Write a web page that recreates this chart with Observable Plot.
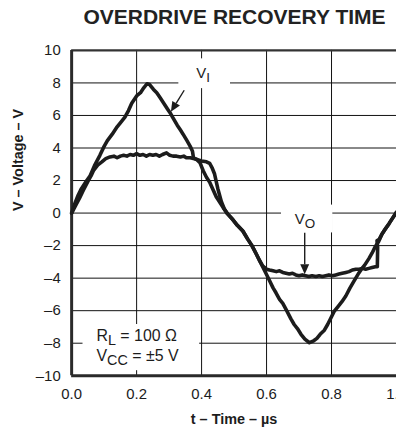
<!DOCTYPE html>
<html>
<head>
<meta charset="utf-8">
<script src="https://cdn.jsdelivr.net/npm/d3@7"></script>
<script src="https://cdn.jsdelivr.net/npm/@observablehq/plot@0.6"></script>
<style>
  html, body { margin: 0; padding: 0; background: #fff; overflow: hidden; }
  #wrap { position: relative; width: 396px; height: 433px; overflow: hidden; }
  #title { position: absolute; left: 71px; width: 327px; top: 6px; text-align: center;
           font: bold 21px "Liberation Sans", Arial, sans-serif; line-height: 1; color: #222; white-space: nowrap; }
  #chart { position: absolute; left: 0; top: 30px; }
</style>
</head>
<body>
<div id="wrap">
  <div id="title">OVERDRIVE RECOVERY TIME</div>
  <div id="chart"></div>
</div>
<script>
// ---- data (t in µs, V in volts) ----
const xTicks = [0, 0.2, 0.4, 0.6, 0.8, 1.0];
const yTicks = [-10, -8, -6, -4, -2, 0, 2, 4, 6, 8, 10];
const xGrid = [0.2, 0.4, 0.6, 0.8];
const yGrid = [-8, -6, -4, -2, 0, 2, 4, 6, 8];

// input voltage V_I
const vInput = [
  [0,0],[0.010,0.6],[0.020,1.1],[0.030,1.5],[0.045,1.95],[0.057,2.3],[0.070,2.9],[0.087,3.55],
  [0.100,4.1],[0.110,4.45],[0.125,4.85],[0.140,5.3],[0.150,5.55],[0.164,5.9],[0.175,6.3],[0.185,6.75],
  [0.200,7.2],[0.212,7.4],[0.222,7.7],[0.232,7.95],[0.240,7.9],[0.252,7.6],[0.262,7.4],[0.272,7.1],
  [0.282,6.8],[0.295,6.4],[0.305,6.1],[0.312,5.85],[0.325,5.4],[0.335,5.1],[0.343,4.85],[0.355,4.45],
  [0.365,4.1],[0.372,3.8],[0.375,3.4],[0.385,3.3],[0.395,3.1],[0.405,2.6],[0.415,2.2],[0.425,1.9],
  [0.435,1.45],[0.445,1.0],[0.455,0.7],[0.466,0.35],[0.480,-0.05],[0.496,-0.4],[0.510,-0.75],[0.527,-1.1],
  [0.542,-1.6],[0.555,-2.0],[0.568,-2.5],[0.578,-2.9],[0.588,-3.3],[0.598,-3.7],[0.609,-4.15],[0.620,-4.6],
  [0.629,-4.9],[0.640,-5.3],[0.650,-5.55],[0.662,-6.0],[0.675,-6.5],[0.685,-6.85],[0.695,-7.1],[0.706,-7.45],
  [0.718,-7.75],[0.732,-7.97],[0.745,-7.85],[0.755,-7.7],[0.765,-7.45],[0.778,-7.2],[0.788,-6.85],[0.798,-6.45],
  [0.808,-6.05],[0.820,-5.75],[0.832,-5.45],[0.844,-5.1],[0.857,-4.6],[0.870,-4.15],[0.882,-3.75],[0.892,-3.45],
  [0.902,-3.2],[0.915,-2.8],[0.925,-2.45],[0.935,-2.05],[0.945,-1.75],[0.955,-1.3],[0.965,-1.0],[0.977,-0.65],
  [0.990,-0.25],[1.000,0.05]
];

// output voltage V_O
const vOutput = [
  [0,0],[0.012,0.45],[0.025,0.95],[0.036,1.4],[0.050,1.95],[0.060,2.3],[0.067,2.6],[0.080,2.95],
  [0.093,3.15],[0.105,3.35],[0.118,3.45],[0.130,3.5],[0.140,3.4],[0.150,3.5],[0.160,3.55],[0.170,3.5],
  [0.180,3.6],[0.190,3.55],[0.200,3.65],[0.210,3.55],[0.220,3.6],[0.230,3.5],[0.240,3.6],[0.250,3.55],
  [0.260,3.6],[0.270,3.5],[0.280,3.6],[0.292,3.7],[0.302,3.55],[0.312,3.5],[0.323,3.5],[0.335,3.45],
  [0.345,3.5],[0.353,3.4],[0.365,3.4],[0.375,3.35],[0.385,3.3],[0.400,3.2],[0.415,3.15],[0.425,3.05],
  [0.432,2.8],[0.440,2.4],[0.450,1.5],[0.461,0.7],[0.470,0.25],[0.480,-0.05],[0.496,-0.4],[0.510,-0.75],
  [0.527,-1.1],[0.542,-1.6],[0.555,-2.0],[0.568,-2.5],[0.578,-2.9],[0.588,-3.25],[0.600,-3.45],[0.609,-3.5],
  [0.620,-3.55],[0.630,-3.6],[0.640,-3.55],[0.650,-3.65],[0.660,-3.7],[0.670,-3.75],[0.680,-3.7],[0.690,-3.8],
  [0.700,-3.85],[0.710,-3.8],[0.720,-3.85],[0.730,-3.9],[0.740,-3.85],[0.752,-3.9],[0.762,-3.85],[0.772,-3.9],
  [0.782,-3.85],[0.792,-3.8],[0.803,-3.85],[0.813,-3.8],[0.823,-3.75],[0.833,-3.7],[0.844,-3.65],[0.854,-3.6],
  [0.864,-3.5],[0.875,-3.45],[0.885,-3.45],[0.895,-3.4],[0.905,-3.45],[0.915,-3.4],[0.925,-3.35],[0.935,-3.3],
  [0.941,-3.3],[0.942,-2.1],[0.940,-1.7],[0.947,-1.6],[0.955,-1.3],[0.965,-1.0],[0.977,-0.65],[0.990,-0.25],
  [1.000,0.05]
];

// annotations (data coordinates)
const labelBoxes = [
  {x1: 0.330, x2: 0.489, y1: 7.65, y2: 9.48},
  {x1: 0.646, x2: 0.804, y1: -1.22, y2: 0.49},
  {x1: 0.035, x2: 0.394, y1: -9.69, y2: -6.85}
];
const richLabels = [
  {t: 0.385, v: 8.26, size: 15, parts: [["V", false], ["I", true]]},
  {t: 0.6887, v: -0.73, size: 15, parts: [["V", false], ["O", true]]},
  {t: 0.078, v: -7.87, size: 16, parts: [["R", false], ["L", true], [" = 100 Ω", false]]},
  {t: 0.078, v: -9.10, size: 16, parts: [["V", false], ["CC", true], [" = ±5 V", false]]}
];
const arrows = [
  {t1: 0.348, v1: 7.52, t2: 0.307, v2: 6.2},
  {t1: 0.719, v1: -1.24, t2: 0.719, v2: -3.79}
];

const FONT = "'Liberation Sans', Arial, Helvetica, sans-serif";
const INK = "#1c1c1c";
const svgNS = "http://www.w3.org/2000/svg";

function richTextMark(items) {
  return (index, scales) => {
    const g = document.createElementNS(svgNS, "g");
    g.setAttribute("text-anchor", "start");
    for (const it of items) {
      const text = document.createElementNS(svgNS, "text");
      text.setAttribute("x", scales.x(it.t));
      text.setAttribute("y", scales.y(it.v));
      text.setAttribute("text-anchor", "start");
      text.setAttribute("font-size", it.size);
      text.setAttribute("font-family", FONT);
      text.setAttribute("fill", INK);
      text.setAttribute("style", "white-space: pre");
      let down = false;
      for (const [s, sub] of it.parts) {
        const ts = document.createElementNS(svgNS, "tspan");
        ts.textContent = s;
        if (sub && !down) { ts.setAttribute("dy", 4); down = true; }
        else if (!sub && down) { ts.setAttribute("dy", -4); down = false; }
        if (sub) ts.setAttribute("font-size", it.size * 0.9);
        text.appendChild(ts);
      }
      g.appendChild(text);
    }
    return g;
  };
}

function arrowMark(items) {
  return (index, scales) => {
    const g = document.createElementNS(svgNS, "g");
    for (const a of items) {
      const x1 = scales.x(a.t1), y1 = scales.y(a.v1), x2 = scales.x(a.t2), y2 = scales.y(a.v2);
      const dx = x2 - x1, dy = y2 - y1, L = Math.hypot(dx, dy);
      const ux = dx / L, uy = dy / L, hl = 10, hw = 4.5;
      const bx = x2 - ux * hl, by = y2 - uy * hl;
      const line = document.createElementNS(svgNS, "line");
      line.setAttribute("x1", x1); line.setAttribute("y1", y1);
      line.setAttribute("x2", bx); line.setAttribute("y2", by);
      line.setAttribute("stroke", INK); line.setAttribute("stroke-width", 1.4);
      g.appendChild(line);
      const poly = document.createElementNS(svgNS, "polygon");
      poly.setAttribute("points", `${x2},${y2} ${bx - uy * hw},${by + ux * hw} ${bx + uy * hw},${by - ux * hw}`);
      poly.setAttribute("fill", INK);
      g.appendChild(poly);
    }
    return g;
  };
}

const plot = Plot.plot({
  width: 398,
  height: 403,
  marginLeft: 71.5,
  marginRight: 0,
  marginTop: 20,
  marginBottom: 56,
  style: {fontFamily: FONT, fontSize: "15px", color: INK, background: "transparent", overflow: "visible"},
  x: {domain: [0, 1], ticks: xTicks, tickFormat: d3.format(".1f"), tickSize: 0, tickPadding: 13, label: null},
  y: {domain: [-10, 10], ticks: yTicks, tickFormat: d => d < 0 ? "–" + (-d) : String(d), tickSize: 0, tickPadding: 11, label: null},
  marks: [
    Plot.ruleX(xGrid, {stroke: "#111", strokeWidth: 1}),
    Plot.ruleY(yGrid, {stroke: "#111", strokeWidth: 1}),
    Plot.rect(labelBoxes, {x1: "x1", x2: "x2", y1: "y1", y2: "y2", fill: "white"}),
    Plot.ruleY([10], {stroke: "#333", strokeWidth: 2.2}),
    Plot.ruleY([-10], {stroke: "#2a2a2a", strokeWidth: 3}),
    Plot.ruleX([0], {stroke: "#2a2a2a", strokeWidth: 3}),
    Plot.line(vOutput, {stroke: INK, strokeWidth: 3.6, strokeLinejoin: "round", strokeLinecap: "round"}),
    Plot.line(vInput, {stroke: INK, strokeWidth: 3.6, strokeLinejoin: "round", strokeLinecap: "round"}),
    richTextMark(richLabels),
    arrowMark(arrows),
    Plot.text(["t – Time – µs"], {frameAnchor: "bottom", lineAnchor: "bottom", dy: 48, fontWeight: "bold", fontSize: 14.5, fill: INK}),
    Plot.text(["V – Voltage – V"], {frameAnchor: "left", rotate: -90, dx: -54, dy: -2, fontWeight: "bold", fontSize: 14.5, fill: INK})
  ]
});
document.getElementById("chart").appendChild(plot);
</script>
</body>
</html>
